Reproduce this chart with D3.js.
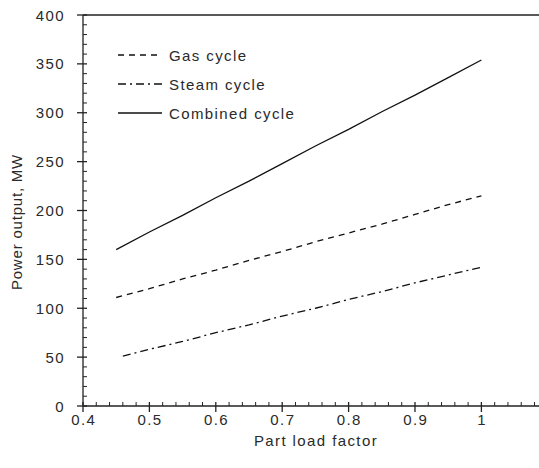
<!DOCTYPE html>
<html>
<head>
<meta charset="utf-8">
<script src="https://cdn.jsdelivr.net/npm/d3@7"></script>
<style>
  body { margin: 0; background: #fff; }
  text { font-family: "Liberation Sans", Arial, sans-serif; fill: #2a2a2a; }
</style>
</head>
<body>
<div id="chart"></div>
<script>
// values
const loadFactor = [0.45, 0.5, 0.55, 0.6, 0.65, 0.7, 0.75, 0.8, 0.85, 0.9, 0.95, 1.0];
const steamLoad = [0.46, 0.5, 0.55, 0.6, 0.65, 0.7, 0.75, 0.8, 0.85, 0.9, 0.95, 1.0];
const gasPower = [111, 120, 130, 139, 149, 158, 168, 177, 186, 196, 206, 215];
const steamPower = [51, 58, 66, 75, 83, 92, 100, 109, 117, 126, 134, 142];
const combinedPower = [160, 178, 195, 213, 230, 248, 266, 283, 301, 318, 336, 354];
const xTicks = [0.4, 0.5, 0.6, 0.7, 0.8, 0.9, 1];
const yTicks = [0, 50, 100, 150, 200, 250, 300, 350, 400];
const seriesNames = ["Gas cycle", "Steam cycle", "Combined cycle"];

const width = 539, height = 468;
const padLeft = 83, padTop = 15, axisY = 406;
const fontSize = 15, spacing = 1.4;

const svg = d3.select("#chart").append("svg")
    .attr("width", width)
    .attr("height", height);

const x = d3.scaleLinear().domain([0.4, 1.1]).range([padLeft, padLeft + 7 * 66.4]);
const y = d3.scaleLinear().domain([0, 400]).range([axisY, padTop]);

// top frame line
svg.append("line").attr("x1", padLeft).attr("x2", width).attr("y1", padTop).attr("y2", padTop)
    .attr("stroke", "#222").attr("stroke-width", 1.3);

// x axis: major ticks cross the line, minor ticks point inside
const xAxis = svg.append("g").attr("transform", `translate(0,${axisY})`);
xAxis.append("line").attr("x1", padLeft).attr("x2", width).attr("stroke", "#222").attr("stroke-width", 1.3);
const xMinor = d3.range(0.42, 1.1, 0.02).filter(v => Math.abs(v * 10 - Math.round(v * 10)) > 0.01);
xAxis.selectAll(".minor").data(xMinor).join("line")
    .attr("x1", d => x(d)).attr("x2", d => x(d))
    .attr("y1", 0).attr("y2", -4).attr("stroke", "#222");
xAxis.selectAll(".major").data(xTicks).join("line")
    .attr("x1", d => x(d)).attr("x2", d => x(d))
    .attr("y1", -4).attr("y2", 6).attr("stroke", "#222").attr("stroke-width", 1.3);
xAxis.selectAll(".lbl").data(xTicks).join("text")
    .attr("x", d => x(d) + spacing / 2).attr("y", 19)
    .attr("text-anchor", "middle").attr("font-size", fontSize)
    .attr("letter-spacing", spacing)
    .text(d => d);

// y axis
const yAxis = svg.append("g").attr("transform", `translate(${padLeft},0)`);
yAxis.append("line").attr("y1", padTop).attr("y2", axisY).attr("stroke", "#222").attr("stroke-width", 1.3);
const yMinor = d3.range(10, 400, 10).filter(v => v % 50 !== 0);
yAxis.selectAll(".minor").data(yMinor).join("line")
    .attr("y1", d => y(d)).attr("y2", d => y(d))
    .attr("x1", 0).attr("x2", 4).attr("stroke", "#222");
yAxis.selectAll(".major").data(yTicks).join("line")
    .attr("y1", d => y(d)).attr("y2", d => y(d))
    .attr("x1", -6).attr("x2", 4).attr("stroke", "#222").attr("stroke-width", 1.3);
yAxis.selectAll(".lbl").data(yTicks).join("text")
    .attr("x", -18).attr("y", d => y(d) + 5.5)
    .attr("text-anchor", "end").attr("font-size", fontSize)
    .attr("letter-spacing", spacing)
    .text(d => d);

// axis titles
svg.append("text")
    .attr("x", 316).attr("y", 446)
    .attr("text-anchor", "middle").attr("font-size", fontSize)
    .attr("letter-spacing", spacing)
    .text("Part load factor");
svg.append("text")
    .attr("transform", "translate(22,222) rotate(-90)")
    .attr("text-anchor", "middle").attr("font-size", fontSize)
    .attr("letter-spacing", 0.8)
    .text("Power output, MW");

// series
const line = d3.line().x(d => x(d[0])).y(d => y(d[1]));
const series = [
    { name: seriesNames[0], pts: d3.zip(loadFactor, gasPower), dash: "6,5" },
    { name: seriesNames[1], pts: d3.zip(steamLoad, steamPower), dash: "8,4,2,4" },
    { name: seriesNames[2], pts: d3.zip(loadFactor, combinedPower), dash: null }
];

series.forEach(s => {
    svg.append("path")
        .datum(s.pts)
        .attr("fill", "none")
        .attr("stroke", "#111")
        .attr("stroke-width", 1.3)
        .attr("stroke-dasharray", s.dash)
        .attr("d", line);
});

// legend
const legend = svg.append("g");
series.forEach((s, i) => {
    const ly = 55 + i * 29;
    legend.append("line")
        .attr("x1", 118).attr("x2", 162).attr("y1", ly).attr("y2", ly)
        .attr("stroke", "#111").attr("stroke-width", 1.3)
        .attr("stroke-dasharray", s.dash);
    legend.append("text")
        .attr("x", 169).attr("y", ly + 5.5)
        .attr("font-size", fontSize)
        .attr("letter-spacing", spacing)
        .text(s.name);
});
</script>
</body>
</html>
